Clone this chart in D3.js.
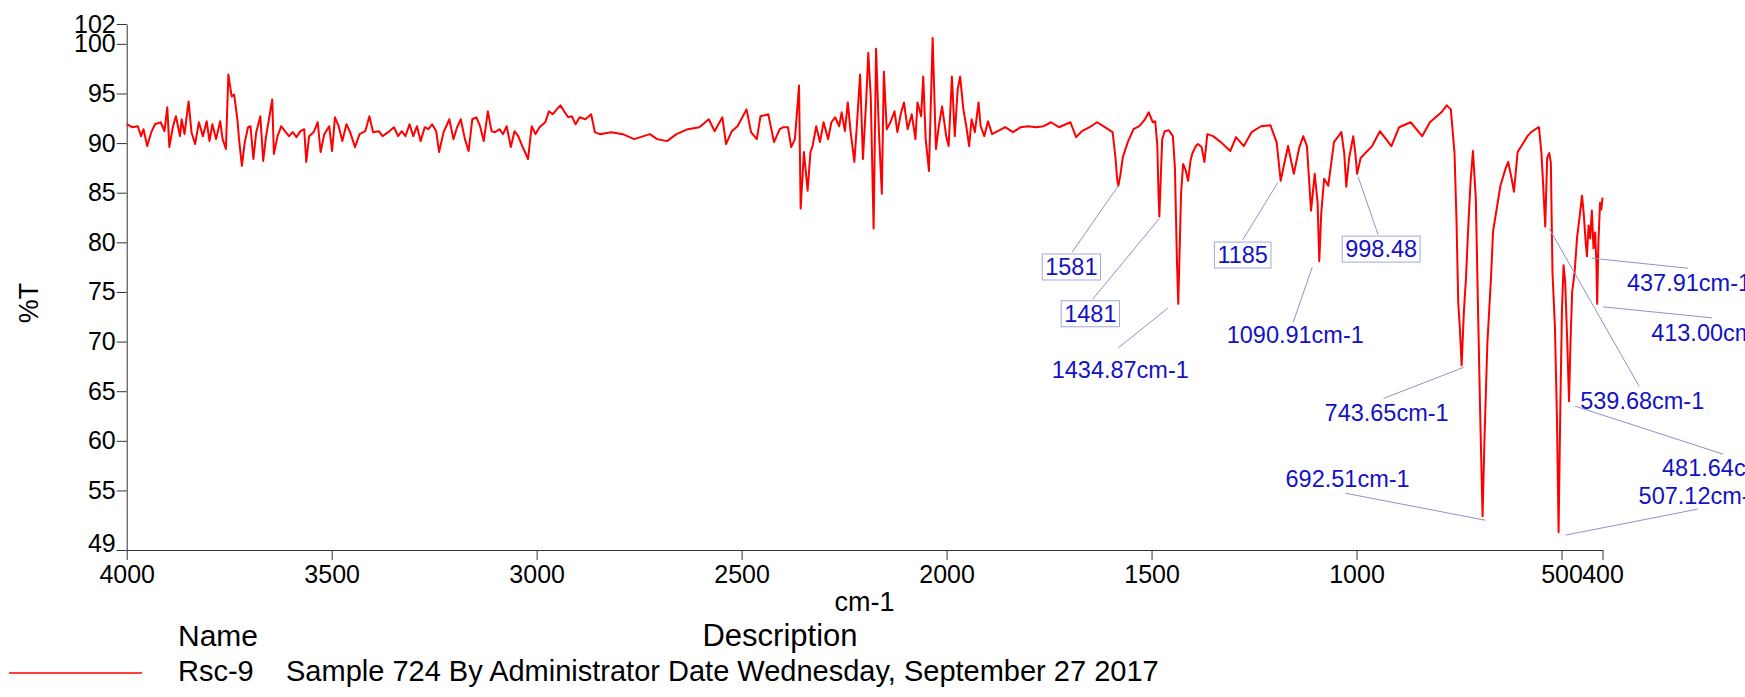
<!DOCTYPE html>
<meta charset="utf-8">
<style>
  body { margin: 0; background: #fff; }
  svg text { font-family: "Liberation Sans", Arial, sans-serif; }
</style>
<body>
  <div id="box1"></div>
</body>
<script src="https://d3js.org/d3.v7.min.js"></script>
<script>

// values: [wavenumber cm-1, %T]
var xTicks = [4000, 3500, 3000, 2500, 2000, 1500, 1000, 500, 400];
var yTicks = [49, 55, 60, 65, 70, 75, 80, 85, 90, 95, 100, 102];

var spectrum = [
  [4000,91.9],[3987,91.6],[3973,91.7],[3965,90.7],[3959,91.4],[3950,89.7],[3940,91.1],[3931,91.9],[3917,92.1],[3908,91.2],
  [3901,93.6],[3896,89.6],[3887,91.7],[3880,92.7],[3870,90.7],[3866,92.4],[3859,90.9],[3849,94.2],[3842,91.1],[3833,89.9],
  [3824,92.1],[3814,90.7],[3805,92.2],[3798,90.2],[3791,91.9],[3782,90.4],[3772,92.2],[3766,90.4],[3758,89.4],[3752,96.9],
  [3744,94.7],[3738,94.9],[3730,92.4],[3726,90.4],[3719,87.7],[3712,90.1],[3704,91.6],[3698,91.7],[3691,88.4],[3684,91.1],
  [3674,92.7],[3667,88.2],[3660,90.7],[3653,92.4],[3645,94.4],[3641,88.9],[3632,90.7],[3623,91.7],[3614,91.2],[3604,90.7],
  [3595,91.1],[3586,90.6],[3576,91.2],[3567,91.4],[3562,88.1],[3555,90.7],[3544,91.1],[3534,92.1],[3527,89.1],[3518,90.9],
  [3506,91.7],[3499,89.2],[3492,92.6],[3483,91.7],[3474,90.2],[3464,91.9],[3455,91.1],[3443,89.6],[3432,90.9],[3418,91.2],
  [3408,92.7],[3399,91.1],[3385,91.2],[3376,90.7],[3362,91.1],[3348,91.6],[3338,90.7],[3329,91.2],[3320,90.7],[3310,91.9],
  [3301,90.7],[3292,91.7],[3283,90.2],[3273,91.6],[3264,91.4],[3255,91.9],[3245,91.2],[3238,89.1],[3227,91.1],[3213,92.4],
  [3203,90.4],[3194,91.6],[3185,92.4],[3175,90.4],[3166,89.2],[3157,92.4],[3147,92.6],[3138,91.7],[3129,90.2],[3119,93.2],
  [3110,91.2],[3101,91.1],[3091,91.4],[3082,90.9],[3073,91.7],[3063,89.6],[3054,91.2],[3045,90.7],[3035,89.7],[3021,88.4],
  [3012,91.7],[3003,90.9],[2993,91.6],[2979,92.1],[2970,93.2],[2961,92.9],[2951,93.4],[2942,93.8],[2933,93.2],[2923,92.6],
  [2914,92.7],[2905,91.9],[2895,92.6],[2881,92.4],[2867,92.9],[2858,91.1],[2846,90.9],[2818,91.1],[2790,90.9],[2762,90.4],
  [2724,90.9],[2706,90.4],[2682,90.2],[2659,90.9],[2631,91.4],[2603,91.6],[2580,92.4],[2566,91.2],[2547,92.6],[2538,89.9],
  [2524,91.2],[2510,91.7],[2488,93.4],[2477,91.1],[2463,90.4],[2454,92.7],[2435,92.9],[2421,90.1],[2407,91.4],[2398,91.6],
  [2387,91.6],[2379,89.6],[2370,90.4],[2360,95.8],[2356,83.4],[2348,89.1],[2339,85.2],[2332,89.1],[2327,89.7],[2318,91.7],
  [2309,90.1],[2300,92.1],[2289,90.4],[2281,92.1],[2272,92.6],[2262,91.7],[2256,93.1],[2248,91.2],[2241,94.1],[2234,91.1],
  [2225,88.1],[2219,91.7],[2211,96.9],[2204,88.4],[2196,94.4],[2191,99.1],[2185,94.7],[2178,81.4],[2172,99.5],[2165,91.1],
  [2158,84.9],[2153,97.2],[2146,91.4],[2137,92.1],[2127,93.2],[2120,91.1],[2112,92.9],[2104,94.1],[2095,91.4],[2085,92.9],
  [2076,90.4],[2071,94.1],[2062,92.7],[2057,96.7],[2051,90.4],[2043,87.2],[2034,100.6],[2026,89.4],[2019,91.7],[2011,93.7],
  [2001,90.7],[1995,89.7],[1987,96.7],[1980,90.7],[1973,95.4],[1967,96.7],[1959,93.4],[1952,91.7],[1945,89.7],[1939,92.4],
  [1931,91.1],[1922,94.1],[1917,91.7],[1908,90.7],[1899,92.2],[1889,90.9],[1875,91.2],[1857,91.6],[1838,91.1],[1819,91.6],
  [1801,91.7],[1782,91.6],[1763,91.7],[1745,92.1],[1726,91.6],[1698,92.1],[1684,90.6],[1670,91.2],[1651,91.6],[1633,92.1],
  [1614,91.6],[1595,91.1],[1588,88.5],[1584,86.4],[1581,85.7],[1576,86.8],[1570,88.6],[1558,90.1],[1544,91.4],[1530,91.7],
  [1516,92.4],[1507,93.1],[1497,92.1],[1491,92.2],[1486,89.8],[1483,84.8],[1481,82.6],[1478,86],[1474,90.4],[1468,91.2],
  [1458,91.3],[1448,90.7],[1443,87.5],[1438,78],[1434.87,73.8],[1431,80],[1428,85],[1423,87.9],[1417,87.3],[1411,86.2],
  [1405,88.2],[1401,88.9],[1392,89.7],[1387,89.9],[1378,89.6],[1371,88.1],[1364,90.9],[1350,90.7],[1331,90.1],[1308,89.2],
  [1294,90.6],[1275,89.7],[1256,91.1],[1233,91.7],[1210,91.8],[1195,90.1],[1185,86.2],[1176,88],[1167,89.7],[1153,86.9],
  [1140,89.5],[1130,90.7],[1121,89.7],[1111,83.2],[1102,86.9],[1095,84],[1090.91,78.1],[1086,83],[1079,86.4],[1069,85.7],
  [1055,90.1],[1037,91.1],[1030,89],[1025,85.6],[1018,88.5],[1008,90.7],[1003,89],[998.48,86.9],[990,88.5],[976,89.1],
  [962,89.7],[943,91.2],[915,89.7],[896,91.6],[868,92.1],[840,90.7],[821,92.1],[793,93.1],[780,93.8],[770,93.4],
  [761,89],[756,82],[752,74],[748,71.4],[743.65,67.6],[738,73.1],[733,76.4],[728,81.1],[722,86],[716,89.2],
  [709,84.4],[703,72],[698,62],[692.51,52.4],[688,60],[681,69.7],[672,76.4],[667,81.1],[649,85.7],[636,87.5],
  [630,88.1],[622,86.5],[616,85.1],[607,89.1],[583,90.7],[574,91.1],[560,91.5],[555,91.6],[549,89],[545,86],
  [539.68,81.6],[535,88.5],[530,89],[526,88],[522,77],[516,71.4],[511,62],[507.12,50.8],[503,63],[499,73],
  [495,77.7],[491,76],[486,70],[481.64,64.0],[478,70],[474,75],[468,77],[462,80.5],[456,82.5],[450,84.7],
  [446,83],[441,80],[437.91,78.6],[434,81.7],[430,80.4],[426,83.2],[422,79.4],[418,81],[415,78],[413,73.8],
  [410,80],[406,84],[403,83.3],[400,84.5]
];

var peaks = [
  {wn: 1581,    t: 85.7, text: "1581",        boxed: true},
  {wn: 1481,    t: 82.6, text: "1481",        boxed: true},
  {wn: 1434.87, t: 73.8, text: "1434.87cm-1", boxed: false},
  {wn: 1185,    t: 86.2, text: "1185",        boxed: true},
  {wn: 1090.91, t: 78.1, text: "1090.91cm-1", boxed: false},
  {wn: 998.48,  t: 86.9, text: "998.48",      boxed: true},
  {wn: 743.65,  t: 67.6, text: "743.65cm-1",  boxed: false},
  {wn: 692.51,  t: 52.4, text: "692.51cm-1",  boxed: false},
  {wn: 539.68,  t: 81.6, text: "539.68cm-1",  boxed: false},
  {wn: 507.12,  t: 50.8, text: "507.12cm-1",  boxed: false},
  {wn: 481.64,  t: 64.0, text: "481.64cm-1",  boxed: false},
  {wn: 437.91,  t: 78.6, text: "437.91cm-1",  boxed: false},
  {wn: 413.00,  t: 73.8, text: "413.00cm-1",  boxed: false}
];

// where each label sits, in px relative to its peak (s = leader start, l = leader end, t = text)
var peakLayout = [
  {sx: 0,  sy: 0, lx: -46,  ly: 66,  tx: -47,  ty: 81,  anchor: "middle"},
  {sx: 0,  sy: 2, lx: -67,  ly: 83,  tx: -69,  ty: 97,  anchor: "middle"},
  {sx: -10,sy: 4, lx: -60,  ly: 44,  tx: -58,  ty: 66,  anchor: "middle"},
  {sx: -3, sy: 2, lx: -38,  ly: 59,  tx: -38,  ty: 74,  anchor: "middle"},
  {sx: -7, sy: 6, lx: -26,  ly: 61,  tx: -24,  ty: 74,  anchor: "middle"},
  {sx: 1,  sy: 3, lx: 21,   ly: 61,  tx: 24,   ty: 75,  anchor: "middle"},
  {sx: 2,  sy: 2, lx: -78,  ly: 33,  tx: -75,  ty: 47,  anchor: "middle"},
  {sx: 3,  sy: 4, lx: -137, ly: -23, tx: -135, ty: -37, anchor: "middle"},
  {sx: 4,  sy: 2, lx: 94,   ly: 160, tx: 97,   ty: 174, anchor: "middle"},
  {sx: 7,  sy: 3, lx: 139,  ly: -23, tx: 80,   ty: -36, anchor: "start"},
  {sx: 6,  sy: 5, lx: 154,  ly: 53,  tx: 93,   ty: 67,  anchor: "start"},
  {sx: 5,  sy: 2, lx: 101,  ly: 12,  tx: 40,   ty: 27,  anchor: "start"},
  {sx: 6,  sy: 3, lx: 115,  ly: 14,  tx: 54,   ty: 29,  anchor: "start"}
];

var seriesName = "Rsc-9";
var seriesDesc = "Sample 724 By Administrator Date Wednesday, September 27 2017";

width = 1745;
height = 697;
margin = ({top: 24, right: 142.5, bottom: 147, left: 126.7});

x = d3.scaleLinear()
    .domain([4000, 400])
    .range([margin.left, width - margin.right])

y = d3.scaleLinear()
    .domain([49, 102])
    .range([height - margin.bottom, margin.top])

var svg = d3.select('#box1').append("svg")
    .attr("width", width)
    .attr("height", height)

var font = '"Liberation Sans", Arial, sans-serif';

// axes
svg.append("g")
    .attr("transform", "translate(0," + (height - margin.bottom) + ")")
    .call(d3.axisBottom(x).tickValues(xTicks).tickSize(10).tickPadding(5).tickSizeOuter(0).tickFormat(d3.format("d")))
    .attr("font-size", 25)
    .attr("font-family", font)

var yAxis = svg.append("g")
    .attr("transform", "translate(" + margin.left + ",0)")
    .call(d3.axisLeft(y).tickValues(yTicks).tickSize(10).tickPadding(1).tickSizeOuter(0))
    .attr("font-size", 25)
    .attr("font-family", font)

// the bottom label sits a little above the x axis line
yAxis.selectAll(".tick").filter(d => d === 49).select("text").attr("dy", "0.05em")

svg.selectAll(".domain, .tick line").attr("stroke", "#333")
svg.selectAll(".tick text").attr("fill", "#000")

// spectrum
var line = d3.line()
    .x(d => x(d[0]))
    .y(d => y(d[1]))

svg.append("path")
    .datum(spectrum)
    .attr("fill", "none")
    .attr("stroke", "#ff0000")
    .attr("stroke-width", 2)
    .attr("stroke-linejoin", "round")
    .attr("d", line)

// peak labels
var ann = svg.append("g")

peaks.forEach(function(p, i) {
  var L = peakLayout[i];
  var px = x(p.wn), py = y(p.t);
  ann.append("line")
    .attr("x1", px + L.sx).attr("y1", py + L.sy)
    .attr("x2", px + L.lx).attr("y2", py + L.ly)
    .attr("stroke", "#8e92c8")
    .attr("stroke-width", 1)
  var t = ann.append("text")
    .attr("x", px + L.tx)
    .attr("y", py + L.ty)
    .attr("dy", "0.35em")
    .attr("text-anchor", L.anchor)
    .attr("fill", "#1212c4")
    .style("font-size", "23.5px")
    .text(p.text)
  if (p.boxed) {
    var b = t.node().getBBox();
    ann.insert("rect", "text")
      .attr("x", b.x - 3).attr("y", b.y)
      .attr("width", b.width + 6).attr("height", b.height)
      .attr("fill", "none")
      .attr("stroke", "#a4a8d8")
      .attr("stroke-width", 1)
  }
})

// axis titles
svg.append("text")
    .attr("transform", "translate(38,303) rotate(-90)")
    .attr("text-anchor", "middle")
    .style("font-size", "27px")
    .text("%T")

svg.append("text")
    .attr("x", (x.range()[0] + x.range()[1]) / 2)
    .attr("y", 611)
    .attr("text-anchor", "middle")
    .style("font-size", "27px")
    .text("cm-1")

// legend table
svg.append("text").attr("x", 178).attr("y", 646).style("font-size", "30px").text("Name")
svg.append("text").attr("x", 780).attr("y", 646).attr("text-anchor", "middle").style("font-size", "31px").text("Description")

svg.append("line")
    .attr("x1", 9).attr("x2", 142)
    .attr("y1", 673).attr("y2", 673)
    .attr("stroke", "#ff0000")
    .attr("stroke-width", 1.5)

svg.append("text").attr("x", 178).attr("y", 681).style("font-size", "29px").text(seriesName)
svg.append("text").attr("x", 286).attr("y", 681).style("font-size", "29px").text(seriesDesc)

</script>
